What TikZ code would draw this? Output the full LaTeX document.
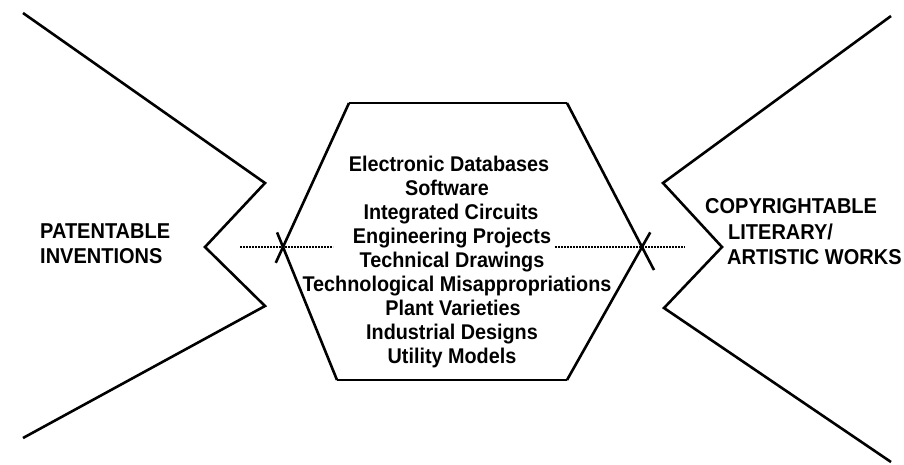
\documentclass[tikz,border=0pt]{standalone}
\usepackage{fontspec}
\setmainfont{Liberation Sans}[FakeStretch=0.93]
\usetikzlibrary{calc}
\begin{document}
\begin{tikzpicture}[x=1pt,y=-1pt,
  edge/.style={line width=2.6pt,line join=miter},
  dotline/.style={line width=1.2pt,dash pattern=on 1.6pt off 1.4pt},
  lbl/.style={font=\bfseries\fontsize{21.5}{25}\selectfont,inner sep=0pt},
  item/.style={font=\bfseries\fontsize{21.3}{24}\selectfont,inner sep=0pt,anchor=base}]
\useasboundingbox (0,0) rectangle (904,464);
% left chevron
\coordinate (L1) at (23,13);
\coordinate (L2) at (265,183);
\coordinate (L3) at (205,247);
\coordinate (L4) at (265,306);
\coordinate (L5) at (23,438);
\draw[edge] (L1) -- (L2) -- (L3) -- (L4) -- (L5);
% right chevron
\coordinate (R1) at (891,16);
\coordinate (R2) at (663,183);
\coordinate (R3) at (722,247);
\coordinate (R4) at (664,308);
\coordinate (R5) at (891,462);
\draw[edge] (R1) -- (R2) -- (R3) -- (R4) -- (R5);
% hexagon
\coordinate (HTL) at (349,103);
\coordinate (HTR) at (567,103);
\coordinate (HBL) at (337,380);
\coordinate (HBR) at (567,380);
\coordinate (XL) at (283,247);
\coordinate (XR) at (642,247);
\draw[edge] (HTL) -- (HTR);
\draw[edge] (HBL) -- (HBR);
\draw[edge] (HTL) -- ($(HTL)!1.11!(XL)$);
\draw[edge] (HBL) -- ($(HBL)!1.11!(XL)$);
\draw[edge] (HTR) -- ($(HTR)!1.16!(XR)$);
\draw[edge] (HBR) -- ($(HBR)!1.11!(XR)$);
% dotted lines
\coordinate (DL1) at (240,247);
\coordinate (DL2) at (333,247);
\coordinate (DR1) at (555,247);
\coordinate (DR2) at (685,247);
\draw[dotline] (DL1) -- (DL2);
\draw[dotline] (DR1) -- (DR2);
% side labels
\node[lbl,anchor=base west] (p1) at (40,238) {PATENTABLE};
\node[lbl,anchor=base west] (p2) at (40,263) {INVENTIONS};
\node[lbl,anchor=base west] (c1) at (705,213) {COPYRIGHTABLE};
\node[lbl,anchor=base west] (c2) at (728,239) {LITERARY/};
\node[lbl,anchor=base west] (c3) at (727,264) {ARTISTIC WORKS};
% center items
\node[item] (i1) at (449,171) {Electronic Databases};
\node[item] (i2) at (447,195) {Software};
\node[item] (i3) at (451,219) {Integrated Circuits};
\node[item] (i4) at (452,243) {Engineering Projects};
\node[item] (i5) at (452,267) {Technical Drawings};
\node[item] (i6) at (457,291) {Technological Misappropriations};
\node[item] (i7) at (453,315) {Plant Varieties};
\node[item] (i8) at (452,339) {Industrial Designs};
\node[item] (i9) at (452,363) {Utility Models};
\end{tikzpicture}
\end{document}
